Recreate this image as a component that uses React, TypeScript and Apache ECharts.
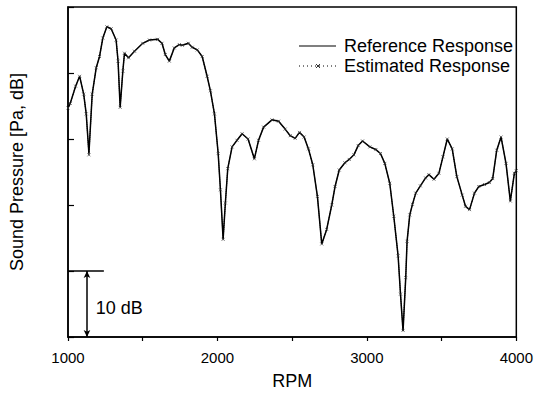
import React, { useEffect, useRef } from 'react';
import * as echarts from 'echarts';

const rpm = [1000,1015,1051,1078,1105,1122,1140,1162,1189,1211,1233,1260,1289,1322,1335,1349,1367,1378,1405,1445,1500,1545,1600,1629,1651,1678,1711,1745,1765,1805,1831,1865,1898,1931,1953,1980,2005,2020,2038,2053,2069,2098,2131,2165,2205,2247,2275,2309,2365,2409,2453,2487,2520,2549,2580,2609,2638,2669,2698,2731,2765,2787,2815,2853,2882,2913,2942,2971,3020,3060,3091,3120,3153,3180,3209,3225,3242,3260,3269,3287,3305,3327,3358,3393,3415,3449,3482,3509,3538,3571,3602,3638,3660,3687,3720,3749,3787,3820,3842,3869,3898,3931,3960,3987,4000];

const referenceDb = [34.7,35.4,38.0,39.5,36.8,33.8,27.8,36.8,40.8,42.5,45.3,47.0,46.7,45.0,41.8,34.8,40.3,43.0,42.3,43.3,44.5,45.0,45.1,44.5,42.8,41.8,43.8,44.3,44.2,44.5,43.9,43.5,42.5,39.5,37.3,33.8,27.8,22.3,14.8,20.3,25.5,28.8,29.8,30.8,30.0,27.0,29.8,31.8,32.9,32.7,31.5,30.5,30.1,31.0,30.3,28.5,26.1,21.3,14.1,16.3,20.0,22.8,25.3,26.4,26.9,27.6,29.0,29.7,28.8,28.4,27.8,26.3,23.3,18.3,12.3,6.5,0.9,9.0,14.5,18.5,20.1,21.8,22.9,24.1,24.6,23.9,24.8,27.3,30.0,28.5,24.3,21.5,19.8,19.3,21.8,22.8,23.1,23.4,24.0,28.3,30.3,26.3,20.6,24.8,25.2];

const estimatedDb = [34.7,35.4,38.0,39.5,36.8,33.8,27.6,36.8,40.8,42.5,45.3,47.0,46.7,45.0,41.8,34.8,40.3,43.0,42.3,43.3,44.5,45.0,45.1,44.5,42.8,41.8,43.8,44.3,44.2,44.5,43.9,43.5,42.5,39.5,37.3,33.8,27.8,22.3,14.8,20.3,25.5,28.8,29.8,30.8,30.0,27.0,29.8,31.8,32.9,32.7,31.5,30.5,30.1,31.0,30.3,28.5,26.1,21.3,14.1,16.3,20.0,22.8,25.3,26.4,26.9,27.6,29.0,29.7,28.8,28.4,27.8,26.3,23.3,18.3,12.3,6.5,1.0,9.0,14.5,18.5,20.1,21.8,22.9,24.1,24.6,23.9,24.8,27.3,30.0,28.5,24.3,21.5,19.8,19.3,21.8,22.8,23.1,23.4,24.0,28.3,30.3,26.3,20.6,24.8,25.2];

const xTickLabels = [1000, 2000, 3000, 4000];
const seriesNames = ['Reference Response', 'Estimated Response'];
const scaleBarDb = 10;
const scaleBarRpm = 1127;
const scaleBarEndRpm = 1240;
const scaleBarLabel = '10 dB';

const FONT = '"Liberation Sans", Arial, Helvetica, sans-serif';

export default function App() {
  const ref = useRef<HTMLDivElement>(null);
  useEffect(() => {
    const chart = echarts.init(ref.current!, null, { renderer: 'svg' });
    const crossSymbol = 'path://M0 0L10 10M10 0L0 10';
    const lx0 = 299, lx1 = 336, tx = 344, ly0 = 46, ly1 = 66;
    chart.setOption({
      animation: false,
      backgroundColor: '#fff',
      textStyle: { fontFamily: FONT, color: '#000' },
      grid: {
        left: 67, right: 19, top: 7, bottom: 55,
        show: true, borderColor: '#000', borderWidth: 1.5,
      },
      graphic: [
        { type: 'line', shape: { x1: lx0, y1: ly0, x2: lx1, y2: ly0 }, style: { stroke: '#000', lineWidth: 1.2 } },
        { type: 'text', x: tx, y: ly0, style: { text: seriesNames[0], font: `18px ${FONT}`, fill: '#000', textVerticalAlign: 'middle', verticalAlign: 'middle' } },
        { type: 'line', shape: { x1: lx0, y1: ly1, x2: lx1, y2: ly1 }, style: { stroke: '#000', lineWidth: 1, lineDash: [1, 3] } },
        { type: 'line', shape: { x1: 316, y1: ly1 - 2, x2: 320, y2: ly1 + 2 }, style: { stroke: '#000', lineWidth: 0.8 } },
        { type: 'line', shape: { x1: 316, y1: ly1 + 2, x2: 320, y2: ly1 - 2 }, style: { stroke: '#000', lineWidth: 0.8 } },
        { type: 'text', x: tx, y: ly1, style: { text: seriesNames[1], font: `18px ${FONT}`, fill: '#000', textVerticalAlign: 'middle', verticalAlign: 'middle' } },
      ],
      xAxis: {
        type: 'value', min: 1000, max: 4000, interval: 500,
        name: 'RPM', nameLocation: 'middle', nameGap: 35,
        nameTextStyle: { fontFamily: FONT, fontSize: 18, color: '#000' },
        axisLine: { lineStyle: { color: '#000', width: 1.5 } },
        axisTick: { inside: false, length: 4, lineStyle: { color: '#000', width: 1.2 } },
        axisLabel: {
          margin: 13, fontFamily: FONT, fontSize: 15, color: '#000',
          formatter: (v: number) => (xTickLabels.includes(v) ? String(v) : ''),
        },
        splitLine: { show: false },
      },
      yAxis: {
        type: 'value', min: 0, max: 50, interval: 10,
        name: 'Sound Pressure [Pa, dB]', nameLocation: 'middle', nameGap: 42,
        nameTextStyle: { fontFamily: FONT, fontSize: 18, color: '#000' },
        axisLine: { lineStyle: { color: '#000', width: 1.5 } },
        axisTick: { inside: true, length: 6, lineStyle: { color: '#000', width: 1.2 } },
        axisLabel: { show: false },
        splitLine: { show: false },
      },
      series: [
        {
          name: seriesNames[0], type: 'line',
          data: rpm.map((x, i) => [x, referenceDb[i]]),
          symbol: 'none', showSymbol: false,
          lineStyle: { color: '#000', width: 1.5 },
          itemStyle: { color: '#000' },
          markLine: {
            silent: true, animation: false,
            label: { show: false },
            lineStyle: { color: '#000', width: 1.5, type: 'solid' },
            data: [
              [
                { coord: [1000, scaleBarDb], symbol: 'none' },
                { coord: [scaleBarEndRpm, scaleBarDb], symbol: 'none' },
              ],
              [
                { coord: [scaleBarRpm, 0], symbol: 'arrow', symbolSize: [5, 7] },
                { coord: [scaleBarRpm, scaleBarDb], symbol: 'arrow', symbolSize: [5, 7] },
              ],
            ],
          },
          markPoint: {
            silent: true, animation: false,
            symbol: 'circle', symbolSize: 0,
            label: {
              show: true, position: 'right', distance: 0,
              formatter: scaleBarLabel, fontFamily: FONT, fontSize: 18, color: '#000',
            },
            data: [{ coord: [1185, 4.4] }],
          },
          z: 3,
        },
        {
          name: seriesNames[1], type: 'line',
          data: rpm.map((x, i) => [x, estimatedDb[i]]),
          symbol: crossSymbol, symbolSize: 3, showSymbol: true,
          lineStyle: { color: '#000', width: 1, type: 'dotted' },
          itemStyle: { color: 'rgba(0,0,0,0)', borderColor: '#333', borderWidth: 0.7 },
          z: 4,
        },
      ],
    });
    return () => chart.dispose();
  }, []);
  return <div ref={ref} style={{ position: 'absolute', left: 0, top: 0, width: 536, height: 395 }} />;
}
